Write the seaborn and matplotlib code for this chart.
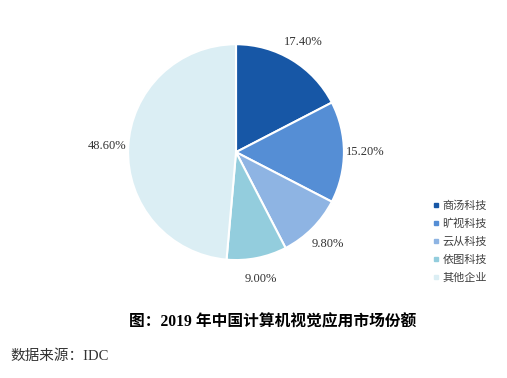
import matplotlib
matplotlib.use('Agg')
import matplotlib.pyplot as plt
import seaborn as sns
from matplotlib.lines import Line2D

# data
companies = ['商汤科技', '旷视科技', '云从科技', '依图科技', '其他企业']
shares = [17.40, 15.20, 9.80, 9.00, 48.60]
colors = ['#1757A6', '#558ED5', '#8EB4E3', '#93CDDD', '#DBEEF4']
title = '图：2019 年中国计算机视觉应用市场份额'
source = '数据来源：IDC'

sns.set_style('white')
plt.rcParams['font.family'] = ['Liberation Serif', 'Noto Sans CJK SC', 'DejaVu Sans']
pal = sns.color_palette(colors)

fig = plt.figure(figsize=(5.07, 3.78), dpi=100)
ax = fig.add_axes([0.2525, 0.312, 0.426, 0.571])
wedges, texts, autotexts = ax.pie(
    shares, colors=pal, startangle=90, counterclock=False,
    autopct='%.2f%%', pctdistance=1.2,
    wedgeprops=dict(edgecolor='white', linewidth=1.5),
    textprops=dict(fontsize=9, color='#333333'))
ax.set_xlim(-1, 1)
ax.set_ylim(-1, 1)
ax.set_aspect('equal')
ax.axis('off')

handles = [Line2D([0], [0], marker='s', linestyle='none', markersize=3.5,
                  markerfacecolor=c, markeredgecolor=c) for c in pal]
fig.legend(handles, companies, loc='upper left', bbox_to_anchor=(0.833, 0.497),
           frameon=False, handlelength=0.6, handletextpad=0.3,
           labelspacing=0.7, prop={'family': ['Noto Sans CJK SC'], 'size': 8},
           labelcolor='#404040')

fig.text(0.537, 0.148, title, ha='center', va='center', fontsize=11.3,
         fontweight='bold', color='black')
fig.text(0.02, 0.058, source, ha='left', va='center', fontsize=10.5, color='#333333')

fig.savefig('out.png', dpi=100)
